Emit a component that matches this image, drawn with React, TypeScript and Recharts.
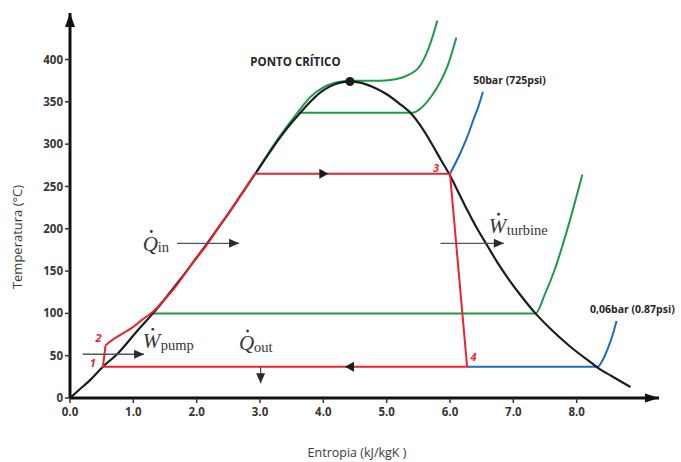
import React from 'react';
import { LineChart, Line, XAxis, YAxis, ReferenceDot, ReferenceLine } from 'recharts';

// ---------- data (entropy s in kJ/kgK, temperature t in °C) ----------
const xTicks = [0, 1, 2, 3, 4, 5, 6, 7, 8];
const yTicks = [0, 50, 100, 150, 200, 250, 300, 350, 400];

const saturationDome = [
  { s: 0, t: 0 }, { s: 0.15, t: 10 }, { s: 0.3, t: 20 }, { s: 0.52, t: 37 }, { s: 0.76, t: 53 },
  { s: 1.07, t: 80 }, { s: 1.31, t: 100 }, { s: 1.53, t: 120 }, { s: 1.74, t: 140 }, { s: 1.94, t: 160 },
  { s: 2.14, t: 180 }, { s: 2.33, t: 200 }, { s: 2.52, t: 220 }, { s: 2.7, t: 240 }, { s: 2.88, t: 260 },
  { s: 3.07, t: 281 }, { s: 3.25, t: 301 }, { s: 3.43, t: 319 }, { s: 3.6, t: 334 }, { s: 3.78, t: 349 },
  { s: 3.95, t: 361 }, { s: 4.1, t: 368 }, { s: 4.25, t: 372.5 }, { s: 4.42, t: 374 }, { s: 4.6, t: 372.5 },
  { s: 4.8, t: 367 }, { s: 5.0, t: 359 }, { s: 5.2, t: 348 }, { s: 5.4, t: 335 }, { s: 5.55, t: 320 },
  { s: 5.7, t: 302 }, { s: 5.86, t: 281 }, { s: 6.0, t: 263 }, { s: 6.14, t: 242 }, { s: 6.28, t: 221 },
  { s: 6.43, t: 200 }, { s: 6.59, t: 180 }, { s: 6.75, t: 160 }, { s: 6.93, t: 140 }, { s: 7.13, t: 120 },
  { s: 7.35, t: 100 }, { s: 7.61, t: 80 }, { s: 7.91, t: 60 }, { s: 8.26, t: 40 }, { s: 8.33, t: 36 },
  { s: 8.55, t: 26 }, { s: 8.85, t: 13 },
];

const cycleHeating = [
  { s: 0.56, t: 62 }, { s: 0.63, t: 66.5 }, { s: 0.8, t: 75 }, { s: 1.0, t: 84 }, { s: 1.13, t: 92 },
  { s: 1.31, t: 102 }, { s: 1.5, t: 117 }, { s: 1.63, t: 128 }, { s: 1.94, t: 160 }, { s: 2.18, t: 183 },
  { s: 2.33, t: 200 }, { s: 2.52, t: 220 }, { s: 2.7, t: 240 }, { s: 2.92, t: 265 },
];

const cycleRest = [
  { s: 2.92, t: 265 }, { s: 6.0, t: 265 }, { s: 6.27, t: 37 }, { s: 0.52, t: 37 }, { s: 0.56, t: 62 },
];

const isobarCritical = [
  { s: 2.95, t: 268 }, { s: 3.3, t: 308 }, { s: 3.6, t: 338 }, { s: 3.8, t: 356 }, { s: 4.0, t: 367 },
  { s: 4.2, t: 373 }, { s: 4.42, t: 375 }, { s: 4.9, t: 375 }, { s: 5.16, t: 377 }, { s: 5.32, t: 381 },
  { s: 5.53, t: 393 }, { s: 5.69, t: 419 }, { s: 5.8, t: 446 },
];

const isobar140 = [
  { s: 3.64, t: 337 }, { s: 5.4, t: 337 }, { s: 5.55, t: 343 }, { s: 5.7, t: 356 }, { s: 5.85, t: 374 },
  { s: 5.97, t: 394 }, { s: 6.1, t: 426 },
];

const isobar1 = [
  { s: 1.31, t: 100 }, { s: 7.35, t: 100 }, { s: 7.5, t: 123 }, { s: 7.65, t: 151 }, { s: 7.8, t: 186 },
  { s: 7.95, t: 225 }, { s: 8.09, t: 264 },
];

const isobar50 = [
  { s: 6.0, t: 265 }, { s: 6.16, t: 289 }, { s: 6.28, t: 310 }, { s: 6.37, t: 329 }, { s: 6.45, t: 345 },
  { s: 6.52, t: 362 },
];

const isobar006 = [
  { s: 6.27, t: 37 }, { s: 8.33, t: 37 }, { s: 8.42, t: 46 }, { s: 8.5, t: 60 }, { s: 8.57, t: 75 },
  { s: 8.63, t: 91 },
];

const criticalPoint = { s: 4.42, t: 374 };

const flowMarks = [
  { s: 4.0, t: 265, dir: 'right' },
  { s: 4.42, t: 37, dir: 'left' },
];

const stateLabels = [
  { label: '1', s: 0.36, t: 36.3 },
  { label: '2', s: 0.45, t: 65.8 },
  { label: '3', s: 5.78, t: 267.5 },
  { label: '4', s: 6.37, t: 44.1 },
];

const energyArrows = [
  { s1: 1.69, t1: 182.8, s2: 2.67, t2: 182.8, dir: 'right' },
  { s1: 5.85, t1: 182.8, s2: 6.85, t2: 182.8, dir: 'right' },
  { s1: 0.2, t1: 51.7, s2: 1.17, t2: 51.7, dir: 'right' },
  { s1: 3.01, t1: 37, s2: 3.01, t2: 17.4, dir: 'down' },
];

const energyLabels = [
  { main: 'Q', sub: 'in', s: 1.15, t: 174.3 },
  { main: 'W', sub: 'turbine', s: 6.61, t: 194.7 },
  { main: 'W', sub: 'pump', s: 1.15, t: 58.7 },
  { main: 'Q', sub: 'out', s: 2.67, t: 56.7 },
];

const notes = [
  { text: 'PONTO CRÍTICO', s: 3.56, t: 392.8, size: 11.5 },
  { text: '50bar (725psi)', s: 6.94, t: 370.6, size: 10.5 },
  { text: '0,06bar (0.87psi)', s: 8.88, t: 100.1, size: 10.5 },
];

// ---------- styles ----------
const RED = '#e5262e';
const GREEN = '#1d9a4b';
const BLUE = '#1f6db5';
const BLACK = '#1c1c1c';
const TEXT = '#363636';
const SANS = '"Open Sans", "Noto Sans", sans-serif';
const SERIF = '"Liberation Serif", "DejaVu Serif", serif';

const headShape = (dir: string, color: string, len: number, half: number) => (p: any) => {
  const { cx, cy } = p;
  let pts = '';
  if (dir === 'right') pts = `${cx},${cy} ${cx - len},${cy - half} ${cx - len},${cy + half}`;
  if (dir === 'left') pts = `${cx},${cy} ${cx + len},${cy - half} ${cx + len},${cy + half}`;
  if (dir === 'down') pts = `${cx},${cy} ${cx - half},${cy - len} ${cx + half},${cy - len}`;
  if (dir === 'up') pts = `${cx},${cy} ${cx - half},${cy + len} ${cx + half},${cy + len}`;
  return <polygon points={pts} fill={color} />;
};

const centeredMark = (dir: string) => (p: any) => {
  const { cx, cy } = p;
  const pts = dir === 'right'
    ? `${cx + 5},${cy} ${cx - 4},${cy - 5} ${cx - 4},${cy + 5}`
    : `${cx - 5},${cy} ${cx + 4},${cy - 5} ${cx + 4},${cy + 5}`;
  return <polygon points={pts} fill={BLACK} />;
};

const energyLabelShape = (main: string, sub: string) => (p: any) => {
  const { cx, cy } = p;
  const mainW = main === 'W' ? 17.5 : 14.5;
  return (
    <g>
      <text x={cx} y={cy} fontFamily={SERIF} fontSize={21} fontStyle="italic" fill={TEXT}>{main}</text>
      <text x={cx + mainW + 0.5} y={cy + 1.5} fontFamily={SERIF} fontSize={14.5} fill={TEXT}>{sub}</text>
      <circle cx={cx + (main === 'W' ? 10 : 8.5)} cy={cy - 19} r={1.4} fill={TEXT} />
    </g>
  );
};

const App = () => {
  return (
    <div style={{ position: 'absolute', left: 0, top: 0, width: 681, height: 462, background: '#fff' }}>
      <LineChart width={681} height={462} margin={{ top: 13, right: 22, bottom: 34, left: 30 }}>
        <XAxis
          dataKey="s"
          type="number"
          domain={[0, 9.3]}
          ticks={xTicks}
          allowDataOverflow
          height={30}
          tickFormatter={(v: number) => v.toFixed(1)}
          tick={{ fontSize: 11.5, fontWeight: 700, fill: TEXT, fontFamily: SANS }}
          tickSize={5}
          tickMargin={5}
          tickLine={{ stroke: '#333', strokeWidth: 1.5 }}
          axisLine={{ stroke: '#111', strokeWidth: 3 }}
          label={{
            content: () => (
              <text x={357} y={457} textAnchor="middle" fontFamily={SANS} fontSize={12.5} fill="#3a3a3a">
                Entropia (kJ/kgK )
              </text>
            ),
          }}
        />
        <YAxis
          type="number"
          domain={[0, 455]}
          ticks={yTicks}
          allowDataOverflow
          width={40}
          tick={{ fontSize: 11.5, fontWeight: 700, fill: TEXT, fontFamily: SANS }}
          tickSize={5}
          tickMargin={2}
          tickLine={{ stroke: '#333', strokeWidth: 1.5 }}
          axisLine={{ stroke: '#111', strokeWidth: 3 }}
          label={{
            content: () => (
              <text
                x={22}
                y={237}
                transform="rotate(-90 22 237)"
                textAnchor="middle"
                fontFamily={SANS}
                fontSize={13}
                fill="#3a3a3a"
              >
                Temperatura (°C)
              </text>
            ),
          }}
        />

        <Line data={isobar1} dataKey="t" type="monotone" stroke={GREEN} strokeWidth={2} dot={false} activeDot={false} isAnimationActive={false} />
        <Line data={isobar140} dataKey="t" type="monotone" stroke={GREEN} strokeWidth={2} dot={false} activeDot={false} isAnimationActive={false} />
        <Line data={isobarCritical} dataKey="t" type="monotone" stroke={GREEN} strokeWidth={2} dot={false} activeDot={false} isAnimationActive={false} />
        <Line data={isobar50} dataKey="t" type="monotone" stroke={BLUE} strokeWidth={2} dot={false} activeDot={false} isAnimationActive={false} />
        <Line data={isobar006} dataKey="t" type="monotone" stroke={BLUE} strokeWidth={2} dot={false} activeDot={false} isAnimationActive={false} />
        <Line data={saturationDome} dataKey="t" type="monotone" stroke={BLACK} strokeWidth={2.2} dot={false} activeDot={false} isAnimationActive={false} />
        <Line data={cycleHeating} dataKey="t" type="monotone" stroke={RED} strokeWidth={2} dot={false} activeDot={false} isAnimationActive={false} />
        <Line data={cycleRest} dataKey="t" type="linear" stroke={RED} strokeWidth={2} dot={false} activeDot={false} isAnimationActive={false} />

        {energyArrows.map((a, i) => (
          <ReferenceLine
            key={`al${i}`}
            segment={[{ x: a.s1, y: a.t1 }, { x: a.s2, y: a.t2 }]}
            stroke="#555"
            strokeWidth={1.3}
            ifOverflow="visible"
          />
        ))}
        {energyArrows.map((a, i) => (
          <ReferenceDot
            key={`ah${i}`}
            x={a.s2}
            y={a.t2}
            ifOverflow="visible"
            shape={headShape(a.dir, '#2a2a2a', 10, 4.5)}
          />
        ))}

        {flowMarks.map((m, i) => (
          <ReferenceDot key={`fm${i}`} x={m.s} y={m.t} ifOverflow="visible" shape={centeredMark(m.dir)} />
        ))}

        <ReferenceDot x={criticalPoint.s} y={criticalPoint.t} r={4.5} fill={BLACK} stroke="none" ifOverflow="visible" />

        {stateLabels.map((l, i) => (
          <ReferenceDot
            key={`sl${i}`}
            x={l.s}
            y={l.t}
            ifOverflow="visible"
            shape={(p: any) => (
              <text x={p.cx} y={p.cy} textAnchor="middle" fontFamily={SANS} fontSize={11} fontWeight={700} fontStyle="italic" fill={RED}>
                {l.label}
              </text>
            )}
          />
        ))}

        {energyLabels.map((l, i) => (
          <ReferenceDot key={`el${i}`} x={l.s} y={l.t} ifOverflow="visible" shape={energyLabelShape(l.main, l.sub)} />
        ))}

        {notes.map((n, i) => (
          <ReferenceDot
            key={`nt${i}`}
            x={n.s}
            y={n.t}
            ifOverflow="visible"
            shape={(p: any) => (
              <text x={p.cx} y={p.cy} textAnchor="middle" fontFamily={SANS} fontSize={n.size} fontWeight={700} fill="#262626">
                {n.text}
              </text>
            )}
          />
        ))}

        {/* axis arrowheads */}
        <ReferenceDot x={0} y={455} ifOverflow="visible" shape={headShape('up', '#111', 14, 5)} />
        <ReferenceDot x={9.3} y={0} ifOverflow="visible" shape={headShape('right', '#111', 14, 4.5)} />
      </LineChart>
    </div>
  );
};

export default App;
